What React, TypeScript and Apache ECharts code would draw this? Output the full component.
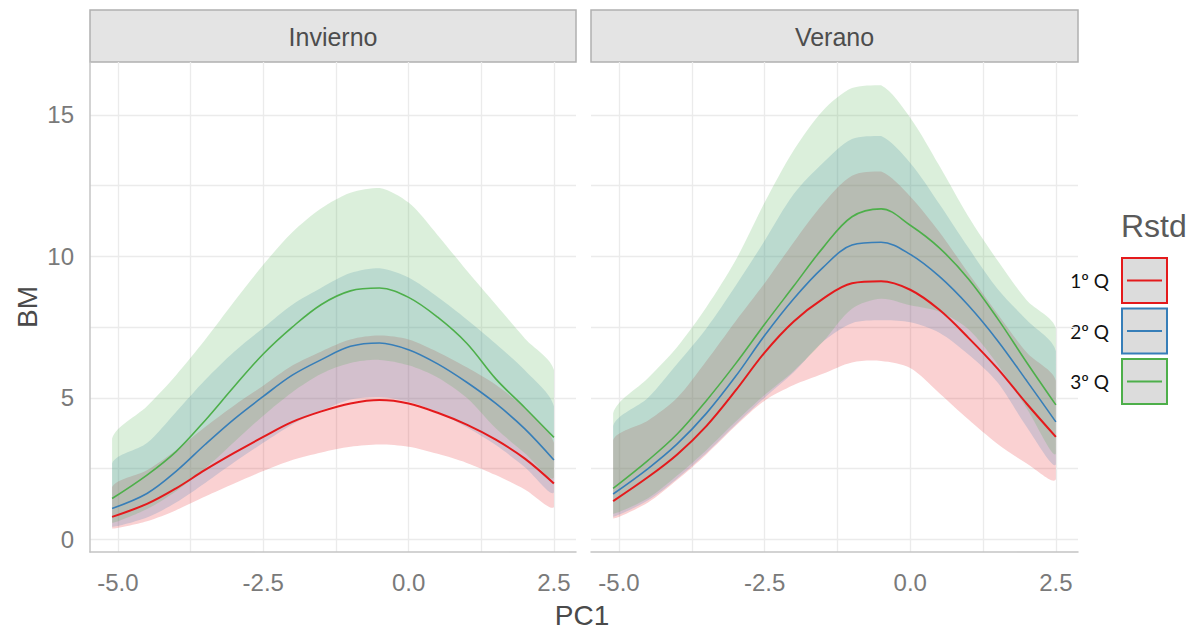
import React, { useEffect, useRef } from "react";
import * as echarts from "echarts";

// ---- data ----
const PC1 = [-5.1, -4.5, -4, -3.5, -3, -2.5, -2, -1.5, -1, -0.5, 0, 0.5, 1, 1.5, 2, 2.5];

const PANELS = ["Invierno", "Verano"];
const GROUPS = ["1º Q", "2º Q", "3º Q"];
const COLORS = ["#E41A1C", "#377EB8", "#4DAF4A"];
const BAND_FILLS = ["rgba(228,26,28,0.2)", "rgba(55,126,184,0.2)", "rgba(77,175,74,0.2)"];

// Invierno
const INV_Q1_FIT = [0.79, 1.25, 1.8, 2.45, 3.05, 3.62, 4.15, 4.52, 4.8, 4.92, 4.8, 4.47, 4.05, 3.52, 2.85, 1.97];
const INV_Q1_LO = [0.38, 0.64, 1.03, 1.51, 1.97, 2.41, 2.8, 3.07, 3.27, 3.35, 3.27, 3.02, 2.7, 2.27, 1.76, 1.14];
const INV_Q1_HI = [1.85, 2.44, 3.15, 3.97, 4.73, 5.43, 6.14, 6.64, 7.06, 7.2, 7.06, 6.62, 6.08, 5.46, 4.62, 3.41];

const INV_Q2_FIT = [1.09, 1.62, 2.4, 3.35, 4.25, 5.05, 5.8, 6.35, 6.82, 6.94, 6.7, 6.2, 5.55, 4.8, 3.9, 2.8];
const INV_Q2_LO = [0.44, 0.77, 1.3, 1.99, 2.72, 3.41, 4.06, 4.54, 4.94, 5.03, 4.86, 4.49, 3.96, 3.33, 2.55, 1.66];
const INV_Q2_HI = [2.68, 3.4, 4.5, 5.63, 6.63, 7.47, 8.29, 8.89, 9.41, 9.58, 9.25, 8.56, 7.77, 6.91, 5.97, 4.7];

const INV_Q3_FIT = [1.44, 2.27, 3.1, 4.2, 5.4, 6.55, 7.5, 8.3, 8.78, 8.88, 8.55, 7.85, 6.93, 5.67, 4.65, 3.6];
const INV_Q3_LO = [0.58, 1.07, 1.7, 2.5, 3.44, 4.37, 5.2, 5.85, 6.23, 6.34, 6.15, 5.72, 5.0, 3.92, 3.04, 2.18];
const INV_Q3_HI = [3.56, 4.7, 5.8, 7.05, 8.4, 9.7, 10.85, 11.7, 12.25, 12.42, 11.9, 10.75, 9.5, 8.3, 7.1, 5.98];

// Verano
const VER_Q1_FIT = [1.35, 2.2, 3.0, 4.0, 5.25, 6.6, 7.7, 8.5, 9.05, 9.12, 8.82, 8.11, 7.12, 6.03, 4.79, 3.62];
const VER_Q1_LO = [0.73, 1.3, 2.1, 3.0, 4.0, 4.9, 5.45, 5.85, 6.25, 6.3, 6.05, 5.16, 4.23, 3.37, 2.68, 2.12];
const VER_Q1_HI = [3.5, 4.2, 5.0, 6.3, 7.7, 9.05, 10.5, 11.85, 12.85, 13.0, 12.12, 10.86, 9.4, 7.96, 6.6, 5.6];

const VER_Q2_FIT = [1.6, 2.5, 3.37, 4.45, 5.75, 7.2, 8.5, 9.6, 10.4, 10.5, 10.07, 9.29, 8.26, 7.02, 5.6, 4.15];
const VER_Q2_LO = [0.8, 1.38, 2.15, 3.05, 4.05, 5.0, 5.9, 6.98, 7.64, 7.74, 7.67, 7.3, 6.53, 5.54, 3.97, 2.65];
const VER_Q2_HI = [4.0, 5.0, 6.2, 7.45, 8.95, 10.55, 12.2, 13.3, 14.15, 14.25, 13.3, 11.85, 10.3, 8.85, 7.75, 6.65];

const VER_Q3_FIT = [1.8, 2.79, 3.72, 4.9, 6.2, 7.6, 8.95, 10.3, 11.4, 11.68, 11.1, 10.3, 9.2, 7.8, 6.25, 4.75];
const VER_Q3_LO = [0.9, 1.45, 2.25, 3.15, 4.15, 5.1, 5.95, 6.98, 8.15, 8.5, 8.27, 8.04, 7.42, 6.18, 4.62, 3.03];
const VER_Q3_HI = [4.45, 5.7, 6.8, 8.2, 9.85, 11.9, 13.75, 15.15, 15.95, 16.05, 14.9, 13.2, 11.4, 9.85, 8.45, 7.45];

// axes
const X_LABELS = [-5, -2.5, 0, 2.5];
const X_GRID = [-5, -3.75, -2.5, -1.25, 0, 1.25, 2.5];
const Y_LABELS = [0, 5, 10, 15];
const Y_GRID = [0, 2.5, 5, 7.5, 10, 12.5, 15];
const X_MIN = -5.48;
const X_MAX = 2.88;
const Y_MIN = -0.45;
const Y_MAX = 16.87;

const FONT = "'Liberation Sans', Arial, sans-serif";

const PANEL_DATA = [
  [
    { fit: INV_Q1_FIT, lo: INV_Q1_LO, hi: INV_Q1_HI },
    { fit: INV_Q2_FIT, lo: INV_Q2_LO, hi: INV_Q2_HI },
    { fit: INV_Q3_FIT, lo: INV_Q3_LO, hi: INV_Q3_HI },
  ],
  [
    { fit: VER_Q1_FIT, lo: VER_Q1_LO, hi: VER_Q1_HI },
    { fit: VER_Q2_FIT, lo: VER_Q2_LO, hi: VER_Q2_HI },
    { fit: VER_Q3_FIT, lo: VER_Q3_LO, hi: VER_Q3_HI },
  ],
];

const GRIDS = [
  { left: 90, top: 62, width: 486, height: 490 },
  { left: 591, top: 62, width: 487, height: 490 },
];

export default function App() {
  const ref = useRef<HTMLDivElement>(null);

  useEffect(() => {
    if (!ref.current) return;
    const chart = echarts.init(ref.current, undefined, { renderer: "svg" });
    const SMOOTH = 0.35;
    const series: any[] = [];

    PANEL_DATA.forEach((groups, p) => {
      groups.forEach((g, k) => {
        series.push({
          type: "custom",
          xAxisIndex: p,
          yAxisIndex: p,
          data: PC1.map((x, i) => [x, g.lo[i], g.hi[i]]),
          encode: { x: 0, y: [1, 2] },
          silent: true,
          z: 1,
          renderItem: (params: any, api: any) => {
            if (params.dataIndex !== 0) return;
            const n = PC1.length;
            const upper: number[][] = [];
            const lower: number[][] = [];
            for (let i = 0; i < n; i++) {
              upper.push(api.coord([api.value(0, i), api.value(2, i)]));
              lower.push(api.coord([api.value(0, i), api.value(1, i)]));
            }
            const pts = upper.concat(lower.reverse());
            let minX = Infinity, minY = Infinity, maxX = -Infinity, maxY = -Infinity;
            pts.forEach((pt) => {
              minX = Math.min(minX, pt[0]);
              maxX = Math.max(maxX, pt[0]);
              minY = Math.min(minY, pt[1]);
              maxY = Math.max(maxY, pt[1]);
            });
            return {
              type: "polygon",
              shape: {
                points: pts,
                smooth: 0.3,
                smoothConstraint: [[minX, minY], [maxX, maxY]],
              },
              style: { fill: BAND_FILLS[k] },
            };
          },
        });
      });
      groups.forEach((g, k) => {
        series.push({
          type: "line",
          name: GROUPS[k],
          xAxisIndex: p,
          yAxisIndex: p,
          data: PC1.map((x, i) => [x, g.fit[i]]),
          symbol: "none",
          smooth: SMOOTH,
          lineStyle: { color: COLORS[k], width: k === 0 ? 2 : 1.6 },
          silent: true,
          z: 3,
        });
      });
    });

    const axisLabelStyle = { fontSize: 24, color: "#7a7a7a", fontFamily: FONT };

    const graphic: any[] = [];
    PANELS.forEach((name, p) => {
      const g = GRIDS[p];
      graphic.push({
        type: "rect",
        shape: { x: g.left, y: 10, width: g.width, height: 52 },
        style: { fill: "#e4e4e4", stroke: "#b0b0b0", lineWidth: 1.5 },
        silent: true,
      });
      graphic.push({
        type: "text",
        x: g.left + g.width / 2,
        y: 37,
        style: {
          text: name,
          fill: "#4d4d4d",
          font: `25px ${FONT}`,
          align: "center",
          verticalAlign: "middle",
        },
        silent: true,
      });
    });
    graphic.push({
      type: "text",
      x: 582,
      y: 615,
      style: { text: "PC1", fill: "#4a4a4a", font: `28px ${FONT}`, align: "center", verticalAlign: "middle" },
    });
    graphic.push({
      type: "text",
      x: 27,
      y: 307,
      rotation: Math.PI / 2,
      style: { text: "BM", fill: "#4a4a4a", font: `28px ${FONT}`, align: "center", verticalAlign: "middle" },
    });
    // legend
    graphic.push({
      type: "text",
      x: 1121,
      y: 226,
      style: { text: "Rstd", fill: "#5a5a5a", font: `32px ${FONT}`, align: "left", verticalAlign: "middle" },
    });
    GROUPS.forEach((label, k) => {
      const top = 258 + k * 50.5;
      graphic.push({
        type: "rect",
        shape: { x: 1122, y: top, width: 45, height: 45 },
        style: { fill: "#dcdcdc", stroke: COLORS[k], lineWidth: 2 },
      });
      graphic.push({
        type: "line",
        shape: { x1: 1127, y1: top + 22.5, x2: 1162, y2: top + 22.5 },
        style: { stroke: COLORS[k], lineWidth: 2 },
      });
      graphic.push({
        type: "text",
        x: 1109,
        y: top + 22.5,
        style: { text: label, fill: "#111111", font: `19px Lato, 'Open Sans', sans-serif`, align: "right", verticalAlign: "middle" },
      });
    });

    chart.setOption({
      animation: false,
      backgroundColor: "#ffffff",
      grid: GRIDS.map((g) => ({ ...g, containLabel: false, outerBoundsMode: "none" })),
      xAxis: [0, 1].map((p) => ({
        type: "value",
        gridIndex: p,
        min: X_MIN,
        max: X_MAX,
        axisLine: { show: true, onZero: false, lineStyle: { color: "#c4c4c4", width: 1.5 } },
        axisTick: { show: false, customValues: X_GRID },
        axisLabel: {
          ...axisLabelStyle,
          customValues: X_LABELS,
          margin: 18,
          formatter: (v: number) => v.toFixed(1),
        },
        splitLine: { show: true, lineStyle: { color: "#ebebeb", width: 1.3 } },
      })),
      yAxis: [0, 1].map((p) => ({
        type: "value",
        gridIndex: p,
        min: Y_MIN,
        max: Y_MAX,
        axisLine: { show: p === 0, onZero: false, lineStyle: { color: "#c4c4c4", width: 1.5 } },
        axisTick: { show: false, customValues: Y_GRID },
        axisLabel: {
          ...axisLabelStyle,
          show: p === 0,
          customValues: Y_LABELS,
          margin: 16,
          formatter: (v: number) => String(v),
        },
        splitLine: { show: true, lineStyle: { color: "#ebebeb", width: 1.3 } },
      })),
      series,
      graphic,
    });

    return () => chart.dispose();
  }, []);

  return (
    <div style={{ position: "fixed", left: 0, top: 0, width: 1187, height: 629, background: "#fff" }}>
      <div ref={ref} style={{ width: 1187, height: 629 }} />
    </div>
  );
}
